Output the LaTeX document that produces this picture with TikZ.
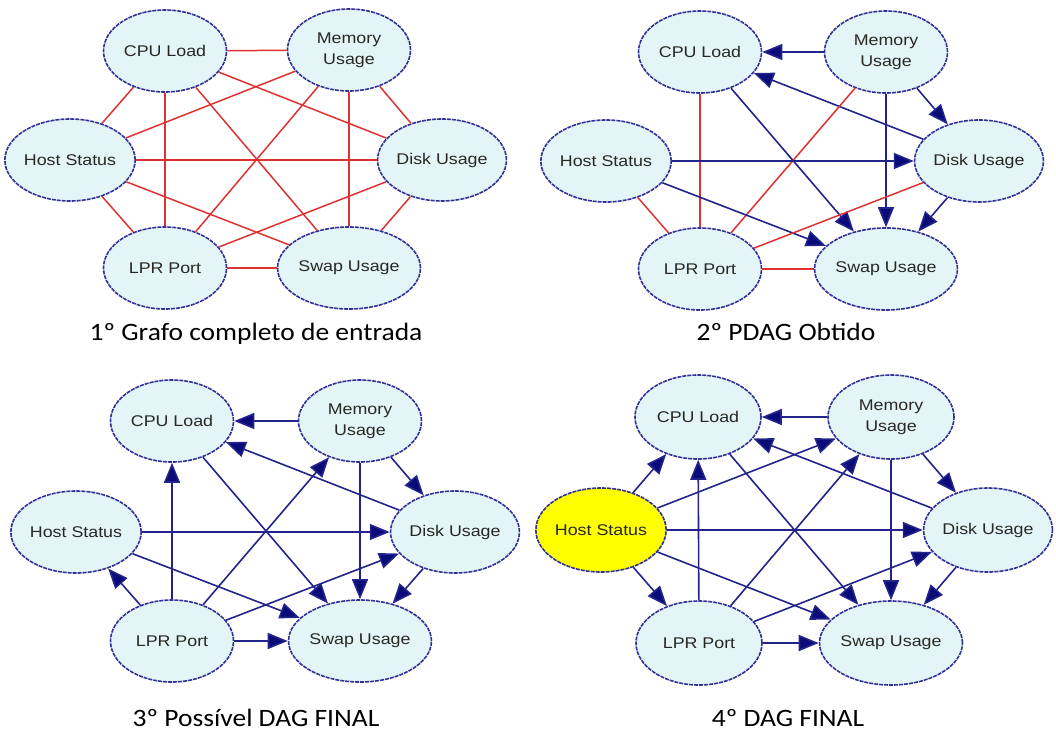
\documentclass[tikz,border=0pt]{standalone}
\usepackage{fontspec}
\usetikzlibrary{shapes.geometric,arrows.meta}
\newfontfamily\varfont[FakeStretch=1.15]{Liberation Sans}
\newfontfamily\capfont[FakeStretch=1.1]{Carlito}
\definecolor{nodefill}{RGB}{228,245,247}
\definecolor{nodeline}{RGB}{50,50,150}
\definecolor{nodetext}{RGB}{40,40,35}
\definecolor{edgered}{RGB}{222,50,50}
\definecolor{edgeblue}{RGB}{35,35,140}
\definecolor{tipblue}{RGB}{10,10,120}
\definecolor{hostyellow}{RGB}{255,255,0}
\tikzset{
  var/.style={ellipse, draw=nodeline, line width=1.6pt, dash pattern=on 4pt off 1pt,
    fill=nodefill, minimum width=123pt, minimum height=82pt, inner sep=0pt,
    align=center, text=nodetext, font=\varfont\fontsize{15.5}{21}\selectfont},
  undir/.style={draw=edgered, line width=1.5pt},
  dir/.style={draw=edgeblue, line width=1.6pt,
    -{Triangle[length=20pt,width=16pt,fill=tipblue]}},
  caption/.style={anchor=base, inner sep=0pt, text=black,
    font=\capfont\fontsize{25}{30}\selectfont}
}
\begin{document}
\begin{tikzpicture}[x=1pt,y=-1pt]
\useasboundingbox (0,0) rectangle (1056,733);

% ---- 1: complete undirected input graph ----
\node[var] (a-cpu)  at (165,51)  {CPU Load};
\node[var] (a-mem)  at (349,50)  {Memory\\Usage};
\node[var] (a-host) at (70,160)  {Host Status};
\node[var] (a-disk) at (442,160) {Disk Usage};
\node[var] (a-lpr)  at (165,268) {LPR Port};
\node[var] (a-swap) at (349,268) {Swap Usage};
\draw[undir] (a-cpu) -- (a-mem);
\draw[undir] (a-cpu) -- (a-host);
\draw[undir] (a-cpu) -- (a-disk);
\draw[undir] (a-cpu) -- (a-lpr);
\draw[undir] (a-cpu) -- (a-swap);
\draw[undir] (a-mem) -- (a-host);
\draw[undir] (a-mem) -- (a-disk);
\draw[undir] (a-mem) -- (a-lpr);
\draw[undir] (a-mem) -- (a-swap);
\draw[undir] (a-host) -- (a-disk);
\draw[undir] (a-host) -- (a-lpr);
\draw[undir] (a-host) -- (a-swap);
\draw[undir] (a-disk) -- (a-lpr);
\draw[undir] (a-disk) -- (a-swap);
\draw[undir] (a-lpr) -- (a-swap);
\node[caption] (cap-a) at (256,340) {1º Grafo completo de entrada};

% ---- 2: PDAG ----
\node[var] (b-cpu)  at (700,52)  {CPU Load};
\node[var] (b-mem)  at (886,52)  {Memory\\Usage};
\node[var] (b-host) at (606,161) {Host Status};
\node[var] (b-disk) at (979,161) {Disk Usage};
\node[var] (b-lpr)  at (700,269) {LPR Port};
\node[var] (b-swap) at (886,269) {Swap Usage};
\draw[dir] (b-mem) -- (b-cpu);
\draw[dir] (b-disk) -- (b-cpu);
\draw[dir] (b-cpu) -- (b-swap);
\draw[undir] (b-cpu) -- (b-lpr);
\draw[undir] (b-mem) -- (b-lpr);
\draw[dir] (b-mem) -- (b-disk);
\draw[dir] (b-mem) -- (b-swap);
\draw[dir] (b-host) -- (b-disk);
\draw[dir] (b-host) -- (b-swap);
\draw[undir] (b-host) -- (b-lpr);
\draw[undir] (b-disk) -- (b-lpr);
\draw[dir] (b-disk) -- (b-swap);
\draw[undir] (b-lpr) -- (b-swap);
\node[caption] (cap-b) at (786,340) {2º PDAG Obtido};

% ---- 3: a possible final DAG ----
\node[var] (c-cpu)  at (172,421) {CPU Load};
\node[var] (c-mem)  at (360,421) {Memory\\Usage};
\node[var] (c-host) at (76,532)  {Host Status};
\node[var] (c-disk) at (455,532) {Disk Usage};
\node[var] (c-lpr)  at (172,641) {LPR Port};
\node[var] (c-swap) at (360,641) {Swap Usage};
\draw[dir] (c-mem) -- (c-cpu);
\draw[dir] (c-disk) -- (c-cpu);
\draw[dir] (c-cpu) -- (c-swap);
\draw[dir] (c-lpr) -- (c-cpu);
\draw[dir] (c-lpr) -- (c-mem);
\draw[dir] (c-mem) -- (c-disk);
\draw[dir] (c-mem) -- (c-swap);
\draw[dir] (c-host) -- (c-disk);
\draw[dir] (c-host) -- (c-swap);
\draw[dir] (c-lpr) -- (c-host);
\draw[dir] (c-lpr) -- (c-disk);
\draw[dir] (c-disk) -- (c-swap);
\draw[dir] (c-lpr) -- (c-swap);
\node[caption] (cap-c) at (256,726) {3º Possível DAG FINAL};

% ---- 4: final DAG ----
\begin{scope}[var/.append style={minimum width=126pt, minimum height=84pt}]
\node[var] (d-cpu)  at (698,417) {CPU Load};
\node[var] (d-mem)  at (891,417) {Memory\\Usage};
\node[var, fill=hostyellow] (d-host) at (601,530) {Host Status};
\node[var] (d-disk) at (988,530) {Disk Usage};
\node[var] (d-lpr)  at (699,643) {LPR Port};
\node[var] (d-swap) at (891,643) {Swap Usage};
\end{scope}
\draw[dir] (d-mem) -- (d-cpu);
\draw[dir] (d-disk) -- (d-cpu);
\draw[dir] (d-cpu) -- (d-swap);
\draw[dir] (d-lpr) -- (d-cpu);
\draw[dir] (d-lpr) -- (d-mem);
\draw[dir] (d-host) -- (d-cpu);
\draw[dir] (d-host) -- (d-mem);
\draw[dir] (d-mem) -- (d-disk);
\draw[dir] (d-mem) -- (d-swap);
\draw[dir] (d-host) -- (d-disk);
\draw[dir] (d-host) -- (d-swap);
\draw[dir] (d-host) -- (d-lpr);
\draw[dir] (d-lpr) -- (d-disk);
\draw[dir] (d-disk) -- (d-swap);
\draw[dir] (d-lpr) -- (d-swap);
\node[caption] (cap-d) at (788,726) {4º DAG FINAL};
\end{tikzpicture}
\end{document}
